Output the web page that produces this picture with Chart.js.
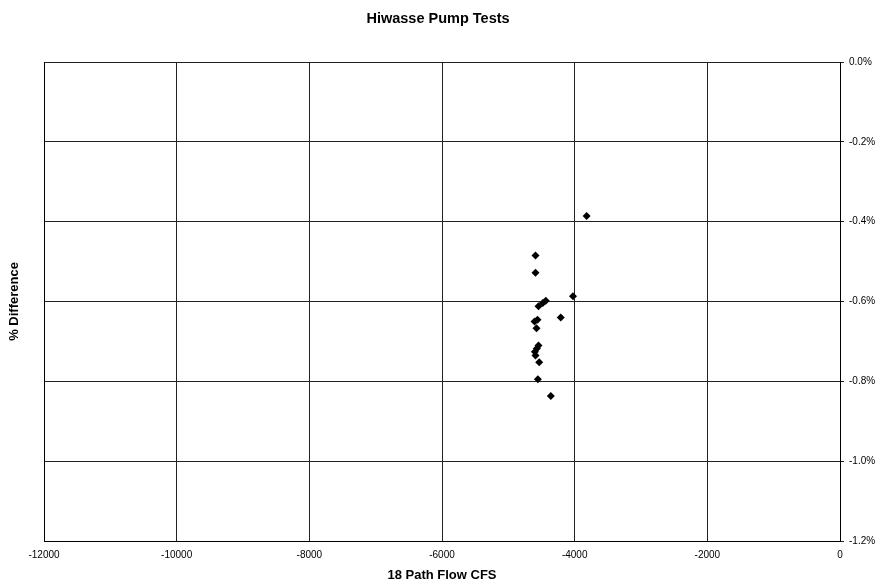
<!DOCTYPE html>
<html>
<head>
<meta charset="utf-8">
<script src="https://cdn.jsdelivr.net/npm/chart.js@4"></script>
<style>
  html, body { margin: 0; padding: 0; background: #fff; }
  #wrap { width: 876px; height: 586px; }
</style>
</head>
<body>
<div id="wrap"><canvas id="pumpChart" width="876" height="586"></canvas></div>
<script>
// flow (cfs) and % difference
const flowCfs = [-3820, -4590, -4590, -4025, -4435, -4480, -4545, -4210, -4560, -4605, -4575, -4545, -4570, -4600, -4590, -4535, -4555, -4360];
const pctDiff = [-0.386, -0.485, -0.528, -0.587, -0.598, -0.604, -0.612, -0.640, -0.646, -0.650, -0.667, -0.710, -0.718, -0.726, -0.735, -0.752, -0.795, -0.837];

const xTicks = [-12000, -10000, -8000, -6000, -4000, -2000, 0];
const yTicks = [0, -0.2, -0.4, -0.6, -0.8, -1.0, -1.2];

const chartTitle = 'Hiwasse Pump Tests';
const xTitle = '18 Path Flow CFS';
const yTitle = '% Difference';

const pts = flowCfs.map((x, i) => ({ x: x, y: pctDiff[i] }));
const font = "'Liberation Sans', Arial, sans-serif";

new Chart(document.getElementById('pumpChart'), {
    type: 'scatter',
    data: {
        datasets: [{
            data: pts,
            pointStyle: 'rectRot',
            pointRadius: 4,
            backgroundColor: '#000',
            borderColor: '#000',
            borderWidth: 0
        }]
    },
    options: {
        responsive: false,
        animation: false,
        layout: { padding: 0 },
        plugins: {
            legend: { display: false },
            tooltip: { enabled: false },
            title: {
                display: true, text: chartTitle, color: '#000',
                font: { family: font, size: 14.5, weight: 'bold', lineHeight: 1.2 },
                padding: { top: 10, bottom: 34.6 }
            }
        },
        scales: {
            x: {
                type: 'linear', min: -12000, max: 0,
                afterBuildTicks: ax => { ax.ticks = xTicks.map(v => ({ value: v })); },
                afterFit: ax => { ax.height = 45; },
                grid: { color: '#222', lineWidth: 1, tickLength: 0 },
                border: { color: '#000', width: 1 },
                ticks: { color: '#000', padding: 8, font: { family: font, size: 10 }, maxRotation: 0, callback: v => String(v) },
                title: { display: true, text: xTitle, color: '#000', padding: { top: 0, bottom: 3 }, font: { family: font, size: 13, weight: 'bold', lineHeight: 1.2 } }
            },
            y: {
                type: 'linear', position: 'right', min: -1.2, max: 0,
                afterBuildTicks: ax => { ax.ticks = yTicks.map(v => ({ value: v })); },
                afterFit: ax => { ax.width = 36; },
                grid: { color: '#222', lineWidth: 1, tickLength: 4 },
                border: { color: '#000', width: 1 },
                ticks: { color: '#000', padding: 5, font: { family: font, size: 10 }, callback: v => v.toFixed(1) + '%' }
            },
            yLeft: {
                type: 'linear', position: 'left', min: -1.2, max: 0,
                afterFit: ax => { ax.width = 44; },
                grid: { display: false },
                border: { display: true, color: '#000', width: 1 },
                ticks: { display: false },
                title: { display: true, text: yTitle, color: '#000', padding: { top: 7, bottom: 0 }, font: { family: font, size: 13, weight: 'bold', lineHeight: 1.2 } }
            }
        }
    }
});
</script>
</body>
</html>
